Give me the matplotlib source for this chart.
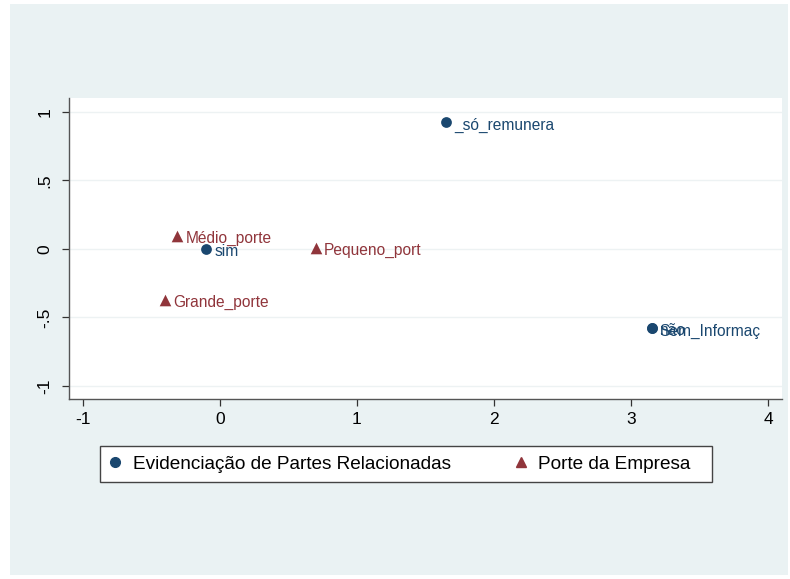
import matplotlib
matplotlib.use("Agg")
import matplotlib.pyplot as plt
from matplotlib.patches import Rectangle
from matplotlib.lines import Line2D

plt.rcParams['font.family'] = ['Liberation Sans', 'DejaVu Sans']

# Data
evid_labels = ["_só_remunera", "sim", "não", "Sem_Informaç"]
evid_x = [1.65, -0.10, 3.15, 3.15]
evid_y = [0.925, 0.0, -0.577, -0.577]

porte_labels = ["Médio_porte", "Pequeno_port", "Grande_porte"]
porte_x = [-0.31, 0.70, -0.40]
porte_y = [0.095, 0.007, -0.37]

series_names = ["Evidenciação de Partes Relacionadas", "Porte da Empresa"]
xticks = [-1, 0, 1, 2, 3, 4]
xticklabels = ["-1", "0", "1", "2", "3", "4"]
yticks = [-1, -0.5, 0, 0.5, 1]
yticklabels = ["-1", "-.5", "0", ".5", "1"]

blue = "#1a476f"
red = "#90353b"
bg = "#eaf2f3"

W, H = 790, 579
fig = plt.figure(figsize=(W/100, H/100), dpi=100)
fig.patch.set_facecolor("white")
fig.patches.append(Rectangle((10/W, 4/H), 778/W, 571/H, transform=fig.transFigure,
                             facecolor=bg, edgecolor="none", zorder=-10))

ax = fig.add_axes([69/W, 1-399/H, (782-69)/W, (399-98)/H])
ax.set_zorder(1)
ax.set_facecolor("white")
ax.set_xlim(-1.10, 4.10)
ax.set_ylim(-1.095, 1.10)

ax.set_yticks(yticks)
ax.set_yticklabels(yticklabels, rotation=90, va="center")
ax.set_xticks(xticks)
ax.set_xticklabels(xticklabels)
ax.tick_params(axis="both", direction="out", length=5, width=0.9, color="#333333",
               labelsize=12.5, labelcolor="black")
ax.tick_params(axis="y", pad=7)
ax.tick_params(axis="x", pad=4)
ax.grid(axis="y", color="#edf2f3", linewidth=1)
ax.set_axisbelow(True)
for s in ["top", "right"]:
    ax.spines[s].set_visible(False)
for s in ["left", "bottom"]:
    ax.spines[s].set_color("#555555")
    ax.spines[s].set_linewidth(1)

ax.scatter(evid_x, evid_y, marker="o", s=60, color=blue, zorder=3, linewidths=0)
ax.scatter(porte_x, porte_y, marker="^", s=70, color=red, zorder=3, linewidths=0)

for lab, x, y in zip(evid_labels, evid_x, evid_y):
    ax.annotate(lab, (x, y), xytext=(8, -3), textcoords="offset pixels",
                ha="left", va="center", color=blue, fontsize=11.2)
for lab, x, y in zip(porte_labels, porte_x, porte_y):
    ax.annotate(lab, (x, y), xytext=(8, -3), textcoords="offset pixels",
                ha="left", va="center", color=red, fontsize=11.2)

# legend frame
fig.patches.append(Rectangle((100/W, 1-482/H), 612/W, 36/H, transform=fig.transFigure,
                             facecolor="white", edgecolor="#444444", linewidth=1, zorder=2))
handles = [Line2D([], [], linestyle="none", marker="o", color=blue, markersize=7),
           Line2D([], [], linestyle="none", marker="^", color=red, markersize=7.5)]
leg = fig.legend(handles, series_names, loc="center left", ncol=2,
                 bbox_to_anchor=(104/W, 1-464/H),
                 frameon=False, fontsize=13.7, handletextpad=0.3,
                 handlelength=1.2, borderaxespad=0, borderpad=0, columnspacing=3.1)
leg.set_zorder(3)

fig.savefig("out.png", dpi=100, facecolor=fig.get_facecolor())
